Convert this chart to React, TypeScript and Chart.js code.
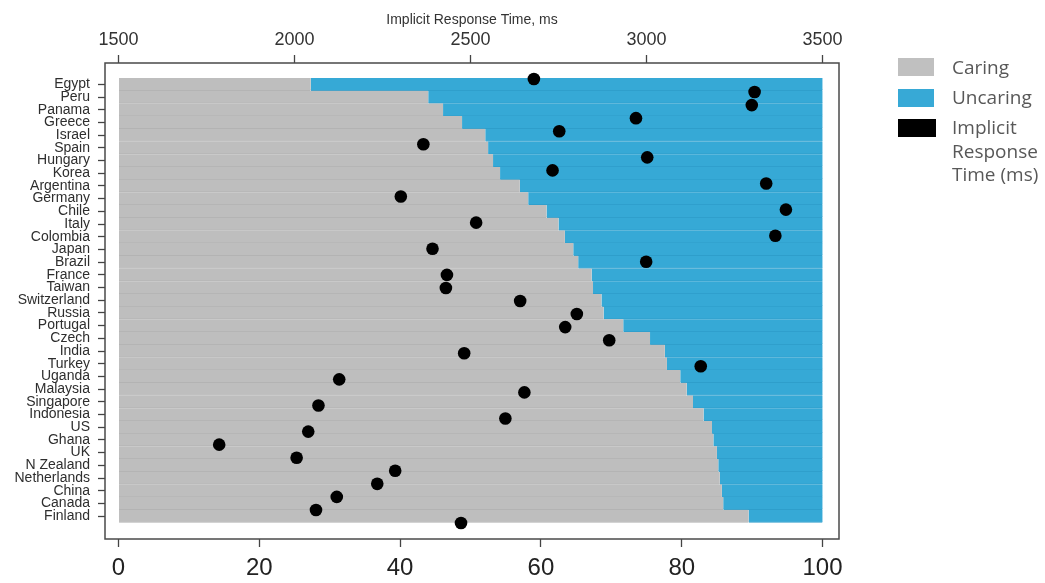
import React, { useEffect, useRef } from 'react';
import { Chart, registerables } from 'chart.js';

Chart.register(...registerables);

const countries = ['Egypt', 'Peru', 'Panama', 'Greece', 'Israel', 'Spain', 'Hungary', 'Korea', 'Argentina', 'Germany', 'Chile', 'Italy', 'Colombia', 'Japan', 'Brazil', 'France', 'Taiwan', 'Switzerland', 'Russia', 'Portugal', 'Czech', 'India', 'Turkey', 'Uganda', 'Malaysia', 'Singapore', 'Indonesia', 'US', 'Ghana', 'UK', 'N Zealand', 'Netherlands', 'China', 'Canada', 'Finland'];

const caring = [27.3, 44.0, 46.1, 48.8, 52.1, 52.5, 53.2, 54.2, 57.0, 58.2, 60.8, 62.5, 63.4, 64.6, 65.3, 67.2, 67.4, 68.6, 68.9, 71.7, 75.5, 77.6, 77.9, 79.8, 80.7, 81.6, 83.1, 84.3, 84.5, 85.0, 85.2, 85.4, 85.7, 85.9, 89.5];

const uncaring = [72.7, 56.0, 53.9, 51.2, 47.9, 47.5, 46.8, 45.8, 43.0, 41.8, 39.2, 37.5, 36.6, 35.4, 34.7, 32.8, 32.6, 31.4, 31.1, 28.3, 24.5, 22.4, 22.1, 20.2, 19.3, 18.4, 16.9, 15.7, 15.5, 15.0, 14.8, 14.6, 14.3, 14.1, 10.5];

const responseMs = [2680, 3307, 3299, 2970, 2752, 2366, 3002, 2733, 3340, 2302, 3396, 2516, 3366, 2392, 2999, 2433, 2430, 2641, 2802, 2769, 2894, 2482, 3154, 2127, 2653, 2068, 2599, 2039, 1786, 2006, 2286, 2235, 2120, 2061, 2473];

const pctTicks = [0, 20, 40, 60, 80, 100];
const msTicks = [1500, 2000, 2500, 3000, 3500];

const GREY = '#bebebe';
const BLUE = '#36a9d6';
const TICK_FONT = '"Liberation Sans", Arial, sans-serif';

const boxPlugin = {
  id: 'plotBox',
  afterDatasetsDraw(chart: any) {
    const { ctx, chartArea } = chart;
    const { left, top, right, bottom } = chartArea;
    ctx.save();
    ctx.strokeStyle = '#4a4a4a';
    ctx.lineWidth = 1.5;
    ctx.strokeRect(left, top, right - left, bottom - top);
    ctx.restore();
  },
};

export default function App() {
  const canvasRef = useRef<HTMLCanvasElement | null>(null);

  useEffect(() => {
    if (!canvasRef.current) return;
    const gridOpts = (len: number) => ({
      drawOnChartArea: false,
      drawTicks: true,
      offset: false,
      tickLength: len,
      tickColor: '#444',
      tickWidth: 1.3,
    });
    const barCommon = {
      type: 'bar',
      xAxisID: 'x',
      yAxisID: 'y',
      grouped: false,
      borderWidth: { top: 0, right: 0, bottom: 1, left: 0 },
      borderSkipped: false,
      barPercentage: 1,
      categoryPercentage: 1,
      order: 1,
    };
    const chart = new Chart(canvasRef.current, {
      type: 'bar',
      data: {
        datasets: [
          {
            type: 'scatter',
            label: 'Implicit Response Time (ms)',
            indexAxis: 'x',
            data: responseMs.map((v, i) => ({ x: v, y: i })),
            xAxisID: 'x2',
            yAxisID: 'y2',
            pointRadius: 6.3,
            pointBackgroundColor: '#000',
            pointBorderWidth: 0,
            showLine: false,
            order: -1,
          } as any,
          {
            ...barCommon,
            label: 'Caring',
            data: caring.map((v, i) => ({ x: v, y: i })),
            backgroundColor: GREY,
            borderColor: '#b2b2b2',
          } as any,
          {
            ...barCommon,
            label: 'Uncaring',
            data: uncaring.map((v, i) => ({ x: v, y: i })),
            backgroundColor: BLUE,
            borderColor: '#2e9dca',
          } as any,
        ],
      },
      options: {
        indexAxis: 'y',
        animation: false,
        responsive: true,
        maintainAspectRatio: false,
        layout: { padding: { left: 0, top: 0, right: 206, bottom: 0 } },
        datasets: { bar: { barPercentage: 1, categoryPercentage: 1 } },
        plugins: {
          legend: { display: false },
          tooltip: { enabled: false },
        },
        scales: {
          x: {
            axis: 'x',
            type: 'linear',
            position: 'bottom',
            offset: false,
            min: -1.92,
            max: 102.34,
            stacked: true,
            afterBuildTicks: (s: any) => {
              s.ticks = pctTicks.map((v) => ({ value: v }));
            },
            afterFit: (s: any) => {
              s.height = 44;
            },
            grid: gridOpts(8),
            border: { display: false },
            ticks: {
              font: { family: TICK_FONT, size: 24 },
              color: '#222',
              padding: 7,
              maxRotation: 0,
              autoSkip: false,
            },
          },
          x2: {
            axis: 'x',
            type: 'linear',
            position: 'top',
            offset: false,
            min: 1461.6,
            max: 3546.8,
            afterBuildTicks: (s: any) => {
              s.ticks = msTicks.map((v) => ({ value: v }));
            },
            afterFit: (s: any) => {
              s.height = 63;
            },
            grid: gridOpts(8),
            border: { display: false },
            title: {
              display: true,
              text: 'Implicit Response Time, ms',
              font: { family: TICK_FONT, size: 14 },
              color: '#333',
              padding: { top: 12, bottom: 0 },
            },
            ticks: {
              callback: (v: any) => String(v),
              font: { family: TICK_FONT, size: 18 },
              color: '#333',
              padding: 4,
              maxRotation: 0,
              autoSkip: false,
            },
          },
          y: {
            axis: 'y',
            type: 'linear',
            position: 'left',
            offset: false,
            stacked: true,
            reverse: true,
            min: -1.68,
            max: 35.8,
            afterBuildTicks: (s: any) => {
              s.ticks = countries.map((_, i) => ({ value: i }));
            },
            afterFit: (s: any) => {
              s.width = 105;
            },
            grid: gridOpts(7),
            border: { display: false },
            ticks: {
              callback: (v: any) => countries[v as number],
              font: { family: TICK_FONT, size: 14 },
              color: '#2e2e2e',
              padding: 8,
              autoSkip: false,
            },
          },
          y2: {
            axis: 'y',
            type: 'linear',
            display: false,
            offset: false,
            reverse: true,
            min: -1.225,
            max: 35.225,
          },
        },
      } as any,
      plugins: [boxPlugin],
    });
    return () => chart.destroy();
  }, []);

  const legendText: React.CSSProperties = {
    position: 'absolute',
    left: 952,
    fontFamily: '"Open Sans", "Noto Sans", sans-serif',
    fontSize: 19,
    color: '#585858',
    lineHeight: '23.5px',
    whiteSpace: 'nowrap',
  };
  const swatch = (top: number, color: string, w = 36): React.CSSProperties => ({
    position: 'absolute',
    left: 898,
    top,
    width: w,
    height: 18,
    background: color,
  });

  return (
    <div style={{ position: 'absolute', left: 0, top: 0, width: 1045, height: 583, background: '#fff' }}>
      <canvas ref={canvasRef} />
      <div style={swatch(58, '#c0c0c0')} />
      <div style={{ ...legendText, top: 56 }}>Caring</div>
      <div style={swatch(89, '#37a9d6')} />
      <div style={{ ...legendText, top: 86 }}>Uncaring</div>
      <div style={swatch(119, '#000', 38)} />
      <div style={{ ...legendText, top: 116 }}>
        Implicit
        <br />
        Response
        <br />
        Time (ms)
      </div>
    </div>
  );
}
